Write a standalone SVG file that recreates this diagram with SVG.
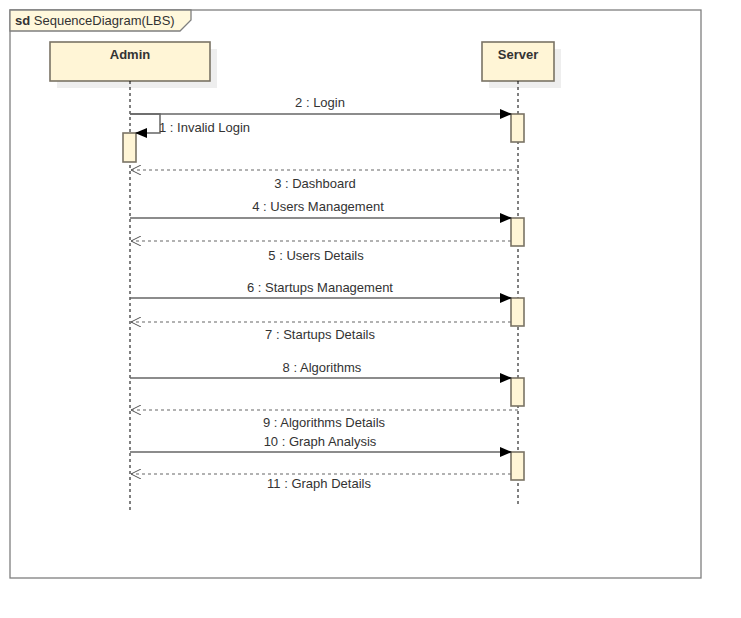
<svg xmlns="http://www.w3.org/2000/svg" width="741" height="618" viewBox="0 0 741 618">
<defs>
<marker id="filled" markerWidth="12" markerHeight="10" refX="11" refY="5" orient="auto" markerUnits="userSpaceOnUse">
<path d="M0,0 L12,5 L0,10 Z" fill="#000"/>
</marker>
<marker id="open" markerWidth="12" markerHeight="10" refX="11" refY="5" orient="auto" markerUnits="userSpaceOnUse">
<path d="M1,0 L11,5 L1,10" fill="none" stroke="#555" stroke-width="1"/>
</marker>
</defs>
<style>
.frame{fill:none;stroke:#7f7f7f;stroke-width:1.3}
.tab{fill:#fff8dc;stroke:#7f7f7f;stroke-width:1.3}
.box{fill:#fff5d6;stroke:#7a7365;stroke-width:1.6}
.shadow{fill:#eeeeee}
.act{fill:#fff5d6;stroke:#7a7365;stroke-width:1.6}
.life{stroke:#000;stroke-width:1;stroke-dasharray:3,3;fill:none}
.msg{stroke:#666;stroke-width:1.5;fill:none}
.ret{stroke:#666;stroke-width:1.2;fill:none;stroke-dasharray:3,3}
.lbl{font-family:"Liberation Sans",Arial,sans-serif;font-size:13px;fill:#333;text-anchor:middle}
.name{font-family:"Liberation Sans",Arial,sans-serif;font-size:13px;font-weight:bold;fill:#333;text-anchor:middle}
.t{font-family:"Liberation Sans",Arial,sans-serif;font-size:13px;fill:#333}
</style>
<rect x="0" y="0" width="741" height="618" fill="#fff"/>
<g id="frame">
<rect class="frame" x="10" y="10" width="691" height="568"/>
<path class="tab" d="M10,10 L191,10 L191,20 L180,31 L10,31 Z"/>
<text class="t" x="15" y="25"><tspan font-weight="bold">sd</tspan> SequenceDiagram(LBS)</text>
</g>
<g id="admin">
<rect class="shadow" x="57" y="49" width="160" height="39"/>
<rect class="box" x="50" y="42" width="160" height="39"/>
<text class="name" x="130" y="59">Admin</text>
<line class="life" x1="130" y1="81" x2="130" y2="511"/>
<rect class="act" x="123" y="133" width="13" height="29"/>
</g>
<g id="server">
<rect class="shadow" x="489" y="49" width="72" height="39"/>
<rect class="box" x="482" y="42" width="72" height="39"/>
<text class="name" x="518" y="59">Server</text>
<line class="life" x1="518" y1="81" x2="518" y2="506"/>
<rect class="act" x="511" y="114" width="13" height="28"/>
<rect class="act" x="511" y="218" width="13" height="28"/>
<rect class="act" x="511" y="298" width="13" height="28"/>
<rect class="act" x="511" y="378" width="13" height="28"/>
<rect class="act" x="511" y="452" width="13" height="28"/>
</g>
<g id="connectors">
<line class="msg" x1="130" y1="114" x2="511" y2="114" marker-end="url(#filled)"/>
<text class="lbl" x="320" y="107">2 : Login</text>
<path class="msg" d="M130,114 L160,114 L160,133 L136,133" marker-end="url(#filled)"/>
<text class="t" x="159" y="132">1 : Invalid Login</text>
<line class="ret" x1="518" y1="170" x2="131" y2="170" marker-end="url(#open)"/>
<text class="lbl" x="315" y="188">3 : Dashboard</text>
<line class="msg" x1="130" y1="218" x2="511" y2="218" marker-end="url(#filled)"/>
<text class="lbl" x="318" y="211">4 : Users Management</text>
<line class="ret" x1="511" y1="241" x2="131" y2="241" marker-end="url(#open)"/>
<text class="lbl" x="316" y="260">5 : Users Details</text>
<line class="msg" x1="130" y1="298" x2="511" y2="298" marker-end="url(#filled)"/>
<text class="lbl" x="320" y="292">6 : Startups Management</text>
<line class="ret" x1="511" y1="322" x2="131" y2="322" marker-end="url(#open)"/>
<text class="lbl" x="320" y="339">7 : Startups Details</text>
<line class="msg" x1="130" y1="378" x2="511" y2="378" marker-end="url(#filled)"/>
<text class="lbl" x="322" y="372">8 : Algorithms</text>
<line class="ret" x1="518" y1="410" x2="131" y2="410" marker-end="url(#open)"/>
<text class="lbl" x="324" y="427">9 : Algorithms Details</text>
<line class="msg" x1="130" y1="452" x2="511" y2="452" marker-end="url(#filled)"/>
<text class="lbl" x="320" y="446">10 : Graph Analysis</text>
<line class="ret" x1="511" y1="474" x2="131" y2="474" marker-end="url(#open)"/>
<text class="lbl" x="319" y="488">11 : Graph Details</text>
</g>
</svg>
